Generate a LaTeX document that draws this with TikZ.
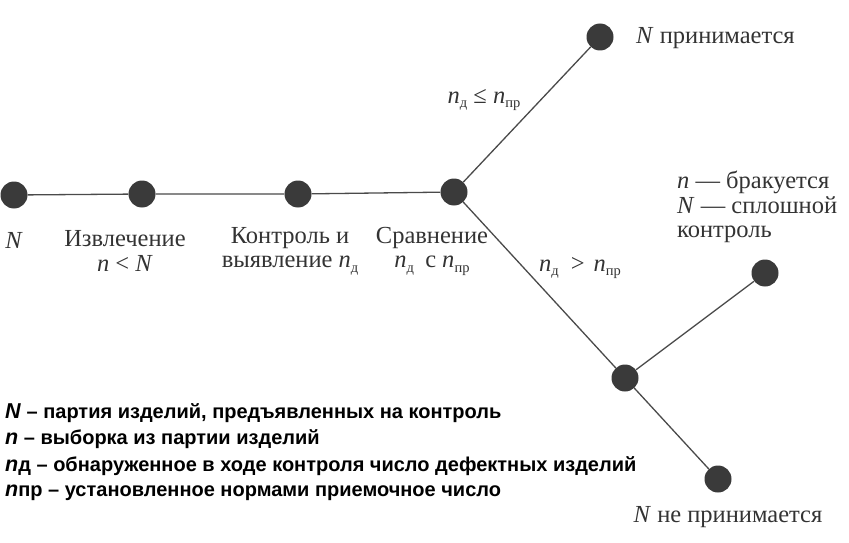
\documentclass[tikz,border=0pt]{standalone}
\usepackage{fontspec}
\setmainfont{Liberation Serif}
\newfontfamily\legfont{Liberation Sans}
\definecolor{dotc}{HTML}{3A3A3A}
\definecolor{linec}{HTML}{4A4A4A}
\definecolor{txtc}{HTML}{333333}
\newcommand{\nsub}[2]{\textit{#1}\raisebox{-0.4ex}{\fontsize{14.5}{14.5}\selectfont #2}}
\newcommand{\legvar}[1]{{\fontsize{21.5}{21.5}\selectfont\textit{#1}}}
\begin{document}
\begin{tikzpicture}[x=1pt,y=-1pt,
  dot/.style={circle,fill=dotc,minimum size=27pt,inner sep=0pt},
  edge/.style={draw=linec,line width=1.3pt},
  lbl/.style={text=txtc,font=\fontsize{24.5}{24.5}\selectfont,align=center,inner sep=0pt},
  leg/.style={anchor=west,inner sep=0pt,font=\legfont\bfseries\fontsize{20}{22}\selectfont}]
\useasboundingbox (0,0) rectangle (849,543);
\node[dot] (a) at (14,195) {};
\node[dot] (b) at (142,194) {};
\node[dot] (c) at (298,194) {};
\node[dot] (d) at (454,192) {};
\node[dot] (t) at (600,37) {};
\node[dot] (m) at (625,378) {};
\node[dot] (r) at (765,273) {};
\node[dot] (bo) at (718,479) {};
\draw[edge] (a) -- (b) -- (c) -- (d);
\draw[edge] (d) -- (t);
\draw[edge] (d) -- (m);
\draw[edge] (m) -- (r);
\draw[edge] (m) -- (bo);
\node[lbl] (la) at (14,240) {\textit{N}};
\node[lbl] (lb) at (125,251) {Извлечение\\\textit{n} < \textit{N}};
\node[lbl] (lc) at (290,251) {Контроль и\\выявление \nsub{n}{д}};
\node[lbl] (ld) at (432,251) {Сравнение\\\nsub{n}{д}\hspace{5pt} с \nsub{n}{пр}};
\node[lbl] (le) at (484,100) {\nsub{n}{д} ≤ \nsub{n}{пр}};
\node[lbl] (lf) at (580,268) {\nsub{n}{д}\hspace{6pt} >\hspace{3pt} \nsub{n}{пр}};
\node[lbl,anchor=west] (lt) at (636,38) {\textit{N} принимается};
\node[lbl,anchor=west,align=left] (lr) at (677,207) {\textit{n} — бракуется\\\textit{N} — сплошной\\контроль};
\node[lbl] (lbo) at (728,517) {\textit{N} не принимается};
\node[leg] (g1) at (5,413) {\legvar{N} – партия изделий, предъявленных на контроль};
\node[leg] (g2) at (5,439) {\legvar{n} – выборка из партии изделий};
\node[leg] (g3) at (5,466) {\legvar{n}д – обнаруженное в ходе контроля число дефектных изделий};
\node[leg] (g4) at (5,493) {\legvar{n}пр – установленное нормами приемочное число};
\end{tikzpicture}
\end{document}
